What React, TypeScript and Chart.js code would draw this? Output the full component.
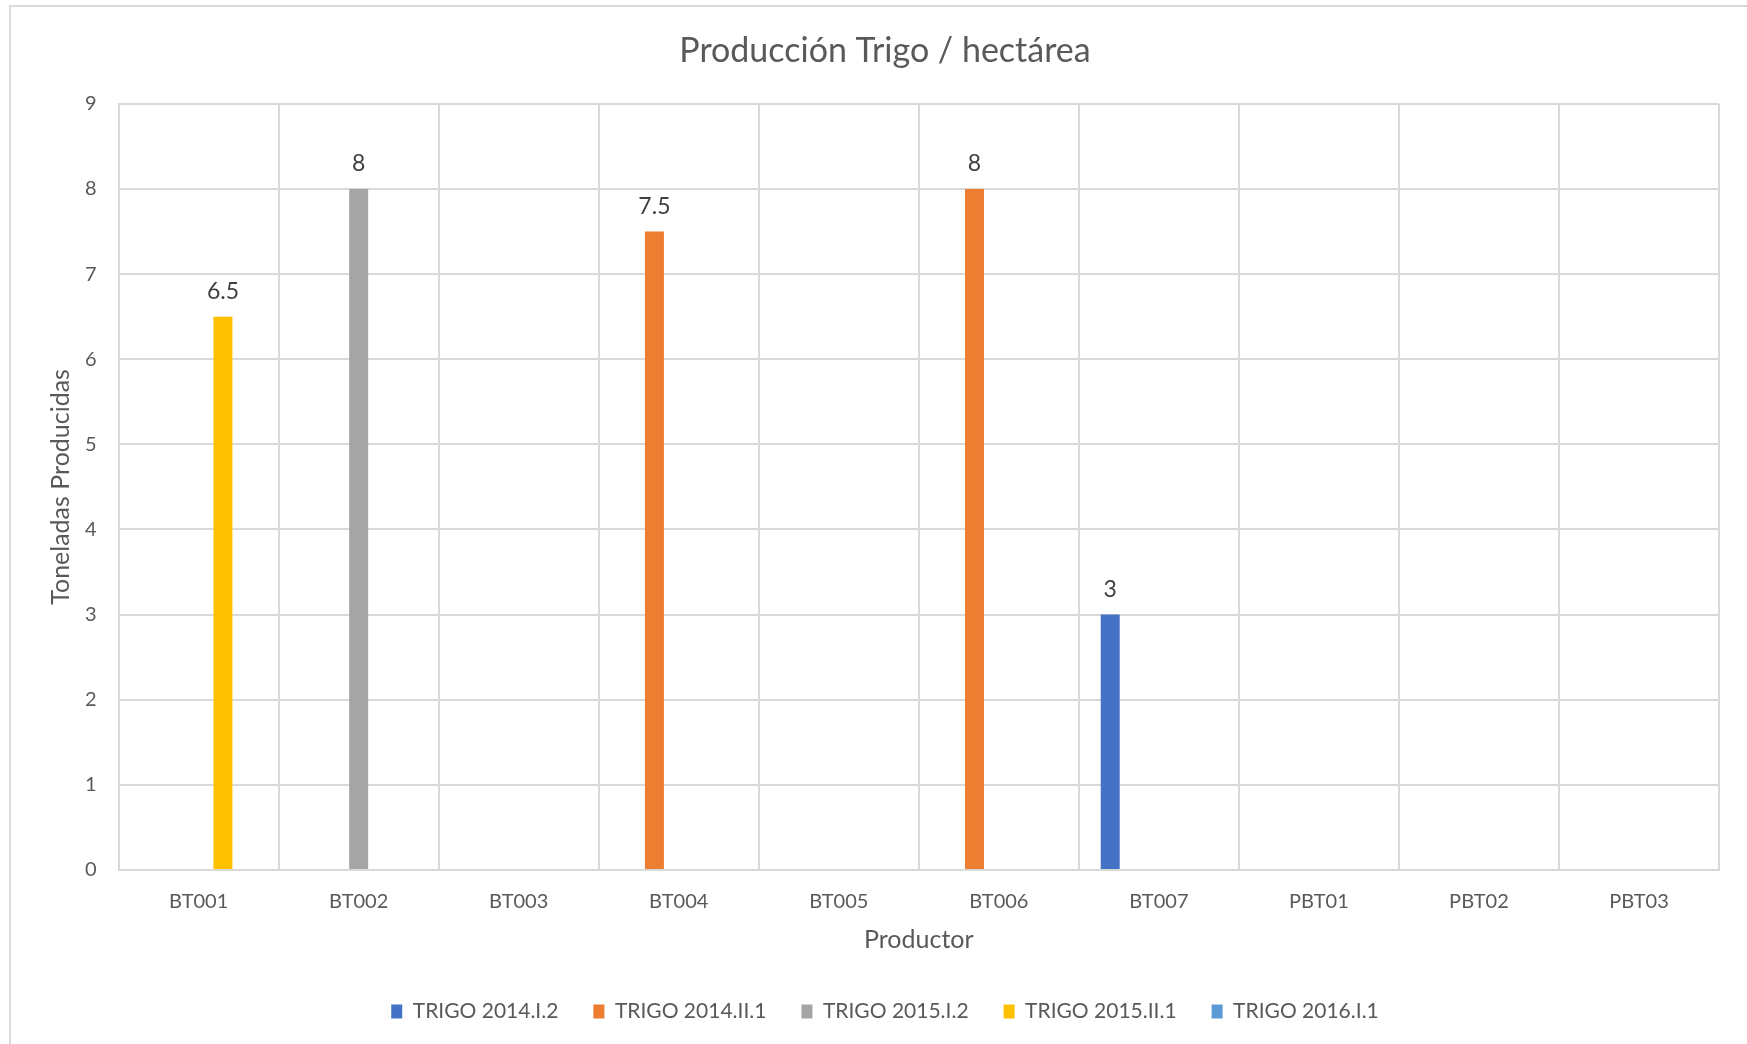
import React, { useEffect, useRef } from "react";
import { Chart, registerables } from "chart.js";

Chart.register(...registerables);

const categories = ["BT001", "BT002", "BT003", "BT004", "BT005", "BT006", "BT007", "PBT01", "PBT02", "PBT03"];
const seriesNames = ["TRIGO 2014.I.2", "TRIGO 2014.II.1", "TRIGO 2015.I.2", "TRIGO 2015.II.1", "TRIGO 2016.I.1"];
const trigo2014I2 = [null, null, null, null, null, null, 3, null, null, null];
const trigo2014II1 = [null, null, null, 7.5, null, 8, null, null, null, null];
const trigo2015I2 = [null, 8, null, null, null, null, null, null, null, null];
const trigo2015II1 = [6.5, null, null, null, null, null, null, null, null, null];
const trigo2016I1 = [null, null, null, null, null, null, null, null, null, null];
const seriesColors = ["#4472C4", "#ED7D31", "#A5A5A5", "#FFC000", "#5B9BD5"];
const yTicks = [0, 1, 2, 3, 4, 5, 6, 7, 8, 9];

const FONT = "Lato, 'Open Sans', sans-serif";
const TEXT = "#595959";
const GRID = "#d9d9d9";

const dataLabelPlugin = {
  id: "dataLabels",
  afterDatasetsDraw(chart: any) {
    const ctx = chart.ctx;
    ctx.save();
    ctx.font = `23px ${FONT}`;
    ctx.fillStyle = "#404040";
    ctx.textAlign = "center";
    ctx.textBaseline = "middle";
    chart.data.datasets.forEach((ds: any, i: number) => {
      const meta = chart.getDatasetMeta(i);
      meta.data.forEach((bar: any, j: number) => {
        const v = ds.data[j];
        if (v === null || v === undefined) return;
        ctx.fillText(String(v), bar.x, bar.y - 25);
      });
    });
    ctx.restore();
  },
};

export default function App() {
  const ref = useRef<HTMLCanvasElement | null>(null);
  useEffect(() => {
    if (!ref.current) return;
    const allSeries = [trigo2014I2, trigo2014II1, trigo2015I2, trigo2015II1, trigo2016I1];
    const chart = new Chart(ref.current, {
      type: "bar",
      data: {
        labels: categories,
        datasets: allSeries.map((d, i) => ({
          label: seriesNames[i],
          data: d,
          backgroundColor: seriesColors[i],
          borderWidth: 0,
          categoryPercentage: 0.76,
          barPercentage: 0.78,
        })),
      },
      plugins: [dataLabelPlugin],
      options: {
        animation: false,
        responsive: true,
        maintainAspectRatio: false,
        layout: { padding: { left: 30, right: 20, top: 0, bottom: 16 } },
        plugins: {
          title: {
            display: true,
            text: "Producción Trigo / hectárea",
            color: TEXT,
            font: { family: FONT, size: 34, weight: "normal" },
            padding: { top: 24, bottom: 32 },
          },
          legend: {
            position: "bottom",
            labels: {
              color: TEXT,
              font: { family: FONT, size: 21 },
              boxWidth: 11,
              boxHeight: 14,
              padding: 35,
            },
          },
          tooltip: { enabled: false },
        },
        scales: {
          x: {
            grid: { color: GRID, lineWidth: 2, drawTicks: false, offset: true },
            border: { color: GRID, width: 2 },
            ticks: { color: TEXT, font: { family: FONT, size: 20 }, padding: 20, maxRotation: 0 },
            title: {
              display: true,
              text: "Productor",
              color: TEXT,
              font: { family: FONT, size: 25 },
              padding: { top: -9, bottom: 11 },
            },
          },
          y: {
            min: 0,
            max: 9,
            afterBuildTicks: (scale: any) => {
              scale.ticks = yTicks.map((v) => ({ value: v }));
            },
            grid: { color: GRID, lineWidth: 2, drawTicks: false },
            border: { color: GRID, width: 2 },
            ticks: { color: TEXT, font: { family: FONT, size: 20 }, padding: 22 },
            title: {
              display: true,
              text: "Toneladas Producidas",
              color: TEXT,
              font: { family: FONT, size: 25 },
              padding: { top: 5, bottom: -13 },
            },
          },
          yRightSpacer: {
            type: "linear",
            position: "right",
            display: true,
            grid: { display: false, drawTicks: false },
            border: { display: false },
            ticks: { display: false },
            afterFit: (scale: any) => {
              scale.width = 10;
            },
          },
        },
      },
    });
    return () => chart.destroy();
  }, []);

  return (
    <div style={{ position: "fixed", left: 0, top: 0, width: 1747, height: 1044, overflow: "hidden", background: "#fff" }}>
      <div
        style={{
          position: "absolute",
          left: 9,
          top: 5,
          width: 1742,
          height: 1045,
          border: "2px solid #d9d9d9",
          boxSizing: "border-box",
          background: "#fff",
        }}
      >
        <canvas ref={ref} />
      </div>
    </div>
  );
}
